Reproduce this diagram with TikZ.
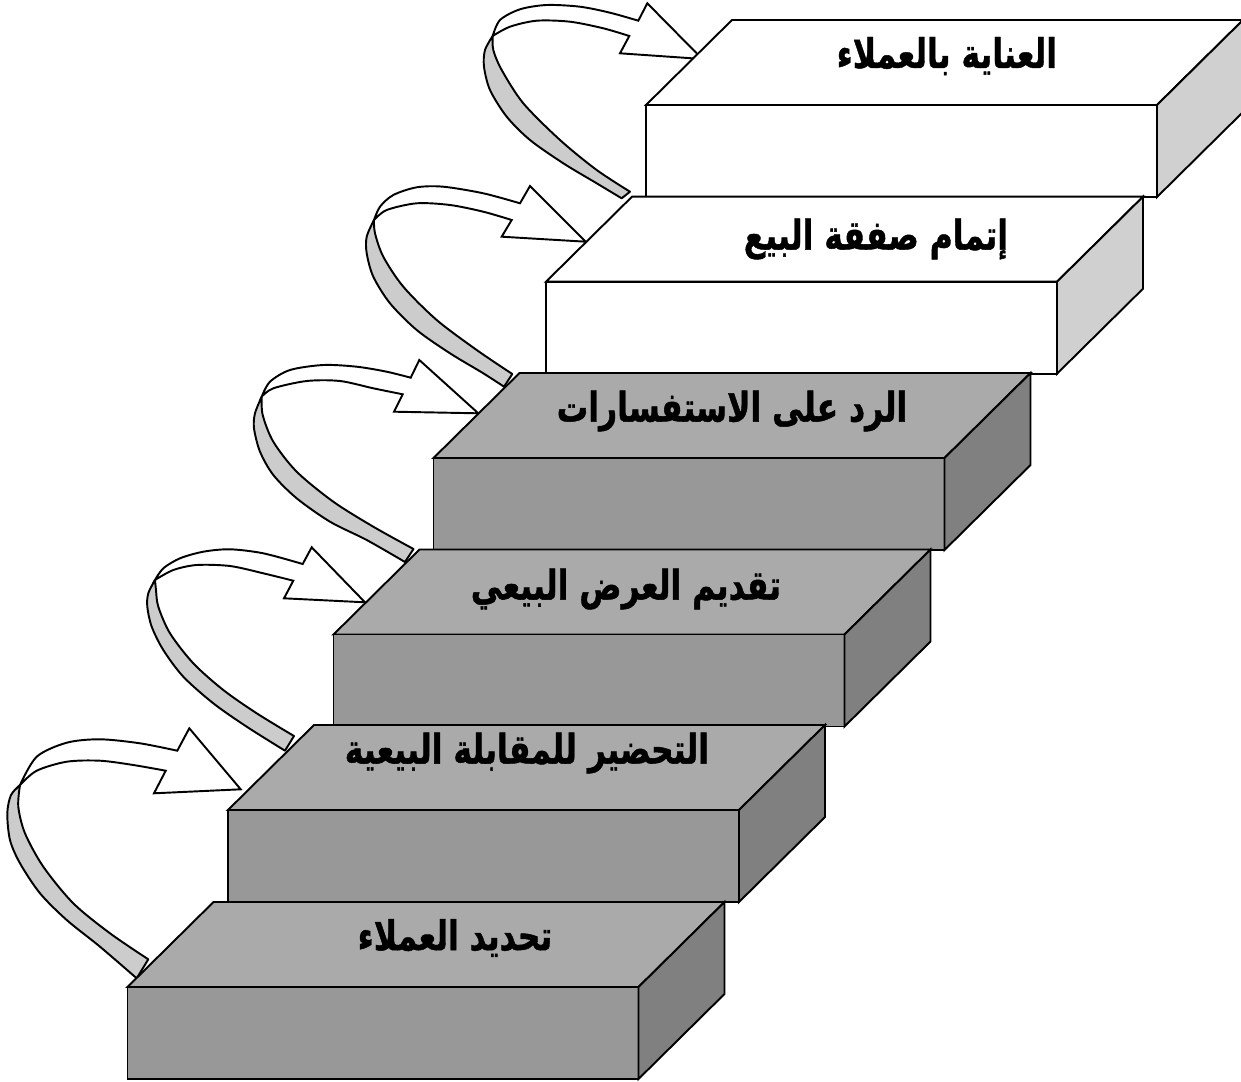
\documentclass[tikz,border=0pt]{standalone}
\usepackage{fontspec}
\newfontfamily\arabicfont[Script=Arabic, BoldFeatures={FakeBold=1.2}]{DejaVu Sans}
\TeXXeTstate=1
\definecolor{gtop}{RGB}{170,170,170}
\definecolor{gfront}{RGB}{152,152,152}
\definecolor{gside}{RGB}{128,128,128}
\definecolor{wside}{RGB}{208,208,208}
\definecolor{bandgray}{RGB}{204,204,204}
\tikzset{
  face/.style={draw=black, line width=1.1pt, line join=miter},
  band/.style={draw=black, line width=1.1pt, fill=bandgray, line join=round},
  bandtop/.style={draw=black, line width=1.1pt, fill=white, line join=miter},
  lbl/.style={font=\arabicfont\bfseries\fontsize{19}{23}\selectfont, inner sep=0pt},
}
\newcommand\artext[1]{\scalebox{0.94}[1.22]{\beginR #1\endR}}
% #1 name of front top-left coordinate, #2 top colour, #3 front colour, #4 side colour
\newcommand\stairbox[4]{%
  \draw[face, fill=#2] (#1) -- ++(86,-85) -- ++(511,0) -- ++(-86,85) -- cycle;
  \draw[face, fill=#3] (#1) rectangle ++(511,92);
  \draw[face, fill=#4] (#1) ++(511,0) -- ++(86,-85) -- ++(0,92) -- ++(-86,85) -- cycle;
}
\begin{document}
\begin{tikzpicture}[x=0.02cm, y=-0.02cm]
\useasboundingbox (0,0) rectangle (1241,1082);
\fill[white] (0,0) rectangle (1241,1082);

% ---------- arrows ----------
% arrow 1
\draw[band] plot[smooth] coordinates {(136.7,978.3) (100,946.7) (66.7,920) (40,893.3) (20,863.3) (10,840) (7.3,813.3) (11,795) (20,785)}
  -- plot[smooth] coordinates {(20,785) (18.3,806.7) (25,833.3) (43.3,866.7) (73.3,903.3) (110,933.3) (148.3,959.3)} -- cycle;
\draw[bandtop] plot[smooth] coordinates {(20,785) (36.7,756.7) (66.7,742.7) (100,739.3) (140,743.3) (177.3,750.7)}
  -- (189.3,728.3) -- (240.7,789.3) -- (154,793.3)
  -- plot[smooth] coordinates {(165.7,770.7) (133.3,765) (100,760.7) (66.7,761.7) (36.7,770.7) (20,785)} -- cycle;
% arrow 2
\draw[band] plot[smooth] coordinates {(285,750.7) (246.7,726.7) (213.3,703.3) (183.3,676.7) (163.3,650) (151.7,626.7) (147.3,606.7) (148.3,593.3) (155,580)}
  -- plot[smooth] coordinates {(155,580) (156,590) (158.3,606.7) (170,633.3) (193.3,663.3) (223.3,690) (256.7,713.3) (294,736)} -- cycle;
\draw[bandtop] plot[smooth] coordinates {(155,580) (163.3,568.3) (180,558.3) (203.3,551.7) (230,549.3) (263.3,553.3) (302.7,564)}
  -- (311.7,547.3) -- (365,602.3) -- (284,598.3)
  -- plot[smooth] coordinates {(293.3,580.7) (263.3,573.3) (230,566) (196.7,565) (173.3,570) (155,580)} -- cycle;
% arrow 3
\draw[band] plot[smooth] coordinates {(405,562) (366.7,540) (330,521.7) (296.7,498.3) (273.3,475) (260,451.7) (254,428.3) (255,413.3) (261.7,396.7)}
  -- plot[smooth] coordinates {(261.7,396.7) (262.7,415) (273.3,441.7) (296.7,471.7) (333.3,501.7) (373.3,526.7) (413.5,549)} -- cycle;
\draw[bandtop] plot[smooth] coordinates {(261.7,396.7) (270,381.7) (290,370) (323.3,365) (356.7,366.7) (386.7,371.7) (410.7,377.7)}
  -- (419.3,360) -- (478.3,413.3) -- (394,411.7)
  -- plot[smooth] coordinates {(402.7,394.3) (373.3,388.3) (340,381) (306.7,381) (273.3,388.3) (261.7,396.7)} -- cycle;
% arrow 4
\draw[band] plot[smooth] coordinates {(504,386.7) (483.3,373.3) (450,353.3) (416.7,330) (390,303.3) (373.3,276.7) (366.7,253.3) (366.7,236.7) (374,220)}
  -- plot[smooth] coordinates {(374,220) (375,233.3) (383.3,256.7) (403.3,286.7) (436.7,320) (476.7,350) (512.3,374)} -- cycle;
\draw[bandtop] plot[smooth] coordinates {(374,220) (380,206.7) (393.3,195) (416.7,187.3) (443.3,186.7) (483.3,193.3) (520,203.3)}
  -- (530,186) -- (585.7,241.7) -- (501.7,236.7)
  -- plot[smooth] coordinates {(511.7,220) (483.3,211.7) (450,205) (416.7,203.3) (386.7,210) (374,220)} -- cycle;
% arrow 5
\draw[band] plot[smooth] coordinates {(621.7,198.3) (596.7,183.3) (563.3,163.3) (530,140) (506.7,116.7) (490,90) (484,66.7) (485,50) (492.7,36)}
  -- plot[smooth] coordinates {(492.7,36) (493.3,50) (501.7,70) (523.3,103.3) (560,140) (596.7,170) (630,191.7)} -- cycle;
\draw[bandtop] plot[smooth] coordinates {(492.7,36) (500,20) (520,9.3) (546.7,5) (580,6.7) (610,12.7) (638.3,20.7)}
  -- (647.3,3.3) -- (702.3,59) -- (620,53.3)
  -- plot[smooth] coordinates {(629.3,36) (603.3,28.3) (570,21.7) (536.7,20.7) (510,26.7) (492.7,36)} -- cycle;

% ---------- boxes (top to bottom) ----------
\coordinate (b6) at (646,105);
\coordinate (b5) at (546,281.7);
\coordinate (b4) at (433.5,458);
\coordinate (b3) at (333.5,634.5);
\coordinate (b2) at (228,810);
\coordinate (b1) at (127.5,987);

\stairbox{b6}{white}{white}{wside}
\stairbox{b5}{white}{white}{wside}
\stairbox{b4}{gtop}{gfront}{gside}
\stairbox{b3}{gtop}{gfront}{gside}
\stairbox{b2}{gtop}{gfront}{gside}
\stairbox{b1}{gtop}{gfront}{gside}

% ---------- labels ----------
\node[lbl] (s6) at (947,56) {\artext{العناية بالعملاء}};
\node[lbl] (s5) at (876,239) {\artext{إتمام صفقة البيع}};
\node[lbl] (s4) at (732,411) {\artext{الرد على الاستفسارات}};
\node[lbl] (s3) at (626,589) {\artext{تقديم العرض البيعي}};
\node[lbl] (s2) at (527,753) {\artext{التحضير للمقابلة البيعية}};
\node[lbl] (s1) at (455,938) {\artext{تحديد العملاء}};
\end{tikzpicture}
\end{document}
